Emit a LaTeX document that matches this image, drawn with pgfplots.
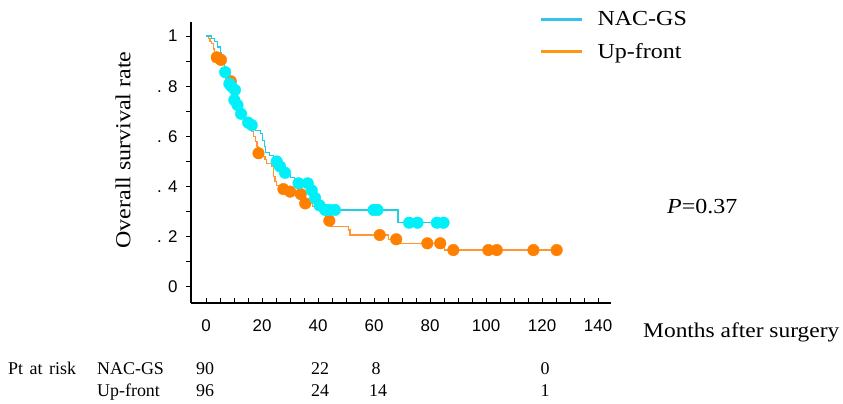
\documentclass[border=0pt]{standalone}
\usepackage{fontspec}
\setmainfont{Liberation Serif}[FakeStretch=1.12]
\newfontfamily\plainserif{Liberation Serif}
\newfontfamily\ticksans{Liberation Sans}
\usepackage{pgfplots}
\pgfplotsset{compat=1.18}
\definecolor{nacline}{RGB}{30,205,230}
\definecolor{nacmark}{RGB}{0,240,250}
\definecolor{upline}{RGB}{255,150,50}
\definecolor{upmark}{RGB}{255,128,0}
\definecolor{nacleg}{RGB}{51,195,240}
\definecolor{upleg}{RGB}{255,150,20}

\begin{document}
\begin{tikzpicture}
\path[use as bounding box] (0,0) rectangle (843bp,404bp);
\begin{axis}[
  at={(191bp,101bp)}, anchor=south west,
  scale only axis, width=420bp, height=281bp,
  xmin=-5.4, xmax=144.6, ymin=-0.064, ymax=1.056,
  axis x line*=bottom, axis y line*=left,
  axis line style={line width=1.1bp, black},
  xtick={0,20,40,60,80,100,120,140},
  xticklabels={0,20,40,60,80,100,120,140},
  minor x tick num=3,
  ytick={0,0.2,0.4,0.6,0.8,1},
  yticklabels={0,. 2,. 4,. 6,. 8,1},
  minor y tick num=1,
  tick align=outside,
  major tick length=5bp, minor tick length=5bp,
  tick style={line width=1bp, black},
  x tick style={yshift=5bp},
  ticklabel style={font=\ticksans\fontsize{17}{17}\selectfont},
  xticklabel style={yshift=-8bp},
  yticklabel style={xshift=-5bp},
  legend style={at={(0.829,0.952)}, anchor=west, draw=none, fill=none,
    font=\fontsize{21.5}{24}\selectfont, row sep=12bp, column sep=12bp,
    inner sep=0pt},
  legend cell align=left,
  legend image code/.code={\draw[#1] (0bp,0bp) -- (41bp,0bp);},
]
\addlegendimage{nacleg, line width=3.2bp}
\addlegendentry{NAC-GS}
\addlegendimage{upleg, line width=3.2bp}
\addlegendentry{Up-front}

% Up-front
\addplot[const plot, upline, line width=1.2bp, forget plot] coordinates {
(0,1.0) (0.8,0.99) (1.4,0.979) (2,0.969) (2.5,0.948) (3,0.927) (3.5,0.915)
(5.2,0.9) (6.5,0.875) (7.2,0.85) (8,0.83) (9.2,0.81) (9.8,0.79) (10.3,0.77)
(10.8,0.75) (11.3,0.73) (12,0.71) (12.6,0.69) (13.5,0.675) (14.5,0.66)
(15.5,0.645) (16.3,0.62) (17,0.6) (17.5,0.58) (18.2,0.56) (18.5,0.535)
(19.9,0.52) (21,0.507) (21.7,0.493) (23.3,0.48) (24,0.44) (24.6,0.42)
(25.2,0.405) (26.4,0.39) (29,0.38) (32,0.37) (34.8,0.345) (35.3,0.333)
(38,0.32) (40.5,0.305) (41.5,0.29) (42.5,0.275) (43.5,0.264) (44.5,0.24)
(50.8,0.227) (51.4,0.207) (65,0.19) (69,0.174) (85,0.147) (126,0.147)};
\addplot[only marks, mark=*, color=upmark, mark size=5.8bp, mark options={fill=upmark, draw=upmark}, forget plot] coordinates {
(3.8,0.915) (5.3,0.905) (8.8,0.82) (18.7,0.533) (27.6,0.39) (30,0.38)
(33.8,0.37) (35.4,0.333) (44,0.264) (62,0.207) (67.9,0.19) (79,0.174)
(83.6,0.174) (88.3,0.147) (100.8,0.147) (103.8,0.147) (116.9,0.147) (125.2,0.147)};

% NAC-GS
\addplot[const plot, nacline, line width=1.2bp, forget plot] coordinates {
(0,1.0) (2,0.989) (3,0.978) (4,0.956) (5,0.933) (5.5,0.9) (6.5,0.878)
(7,0.856) (8,0.833) (8.5,0.81) (9.5,0.79) (10.2,0.76) (10.8,0.74)
(11.5,0.72) (12.3,0.69) (13.5,0.675) (14.5,0.655) (16.5,0.64) (17.5,0.625)
(19.5,0.61) (20.2,0.585) (20.8,0.56) (21.3,0.535) (22.5,0.523) (24,0.51)
(25.5,0.495) (26.5,0.48) (27.5,0.465) (28.5,0.45) (30,0.435) (31.5,0.425)
(33,0.413) (37,0.4) (37.5,0.385) (38.2,0.37) (38.8,0.355) (39.5,0.34)
(40.3,0.325) (41.5,0.307) (68.5,0.256) (86.5,0.256)};
\addplot[only marks, mark=*, color=nacmark, mark size=5.8bp, mark options={fill=nacmark, draw=nacmark}, forget plot] coordinates {
(6.8,0.856) (8.3,0.81) (9,0.8) (10.3,0.785) (10.1,0.745) (11.2,0.725)
(12.5,0.69) (15,0.655) (16.3,0.645) (25.2,0.5) (26.4,0.48) (28.2,0.455)
(33,0.413) (36.3,0.413) (37.7,0.385) (38.9,0.355) (40.5,0.325) (42.5,0.307)
(44,0.307) (46,0.307) (59.8,0.307) (61.2,0.307) (72.5,0.256) (75.5,0.256)
(82.4,0.256) (84.8,0.256)};
\end{axis}

\node[rotate=90, font=\fontsize{21.5}{24}\selectfont] at (123bp,254bp) {Overall survival rate};
\node[anchor=base west, inner sep=0pt, font=\fontsize{21}{24}\selectfont] at (643bp,66bp) {Months after surgery};
\node[anchor=base west, inner sep=0pt, font=\fontsize{21.5}{24}\selectfont] at (667bp,190bp) {\textit{P}=0.37};

\begin{scope}[every node/.style={inner sep=0pt, font=\plainserif\fontsize{18}{20}\selectfont}]
\node[anchor=base west] at (8bp,30bp) {Pt\hspace{2bp} at\hspace{2bp} risk};
\node[anchor=base west] at (97bp,30bp) {NAC-GS};
\node[anchor=base west] at (97bp,8bp) {Up-front};
\node[anchor=base] at (205bp,30bp) {90};
\node[anchor=base] at (320bp,30bp) {22};
\node[anchor=base] at (376bp,30bp) {8};
\node[anchor=base] at (545bp,30bp) {0};
\node[anchor=base] at (205bp,8bp) {96};
\node[anchor=base] at (320bp,8bp) {24};
\node[anchor=base] at (378bp,8bp) {14};
\node[anchor=base] at (545bp,8bp) {1};
\end{scope}
\end{tikzpicture}
\end{document}
